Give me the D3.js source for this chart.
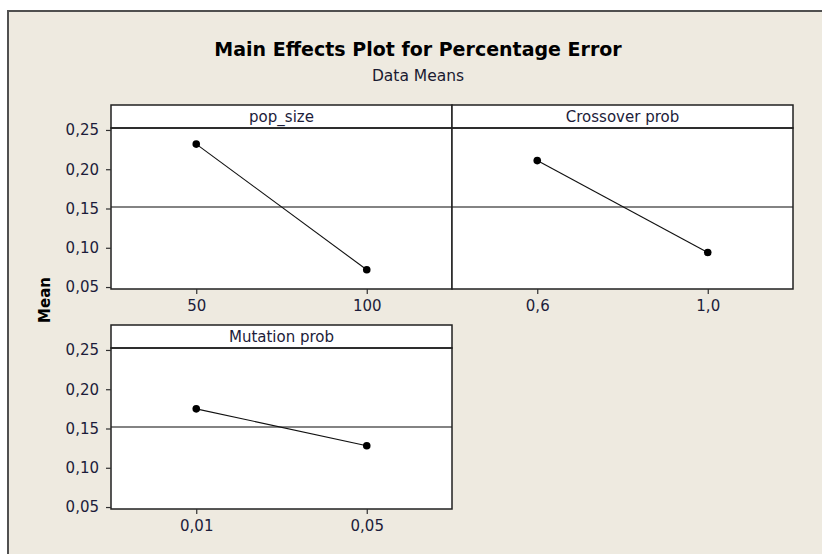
<!DOCTYPE html>
<html>
<head>
<meta charset="utf-8">
<script src="https://cdn.jsdelivr.net/npm/d3@7"></script>
<style>
  html, body { margin: 0; padding: 0; background: #ffffff; }
  svg { display: block; }
  text { font-family: "DejaVu Sans", Verdana, sans-serif; }
</style>
</head>
<body>
<svg id="chart" width="822" height="554"></svg>
<script>
// Factors and their level labels
const factors = ["pop_size", "Crossover prob", "Mutation prob"];
const popSizeLevels = ["50", "100"];
const crossoverLevels = ["0,6", "1,0"];
const mutationLevels = ["0,01", "0,05"];

// Mean percentage error at each level
const popSizeMeans = [0.232, 0.072];
const crossoverMeans = [0.211, 0.094];
const mutationMeans = [0.175, 0.128];

// Grand mean (reference line)
const grandMean = 0.152;

// Y axis ticks
const yTicks = [0.05, 0.10, 0.15, 0.20, 0.25];

const panels = [
  { name: factors[0], levels: popSizeLevels, means: popSizeMeans, col: 0, row: 0 },
  { name: factors[1], levels: crossoverLevels, means: crossoverMeans, col: 1, row: 0 },
  { name: factors[2], levels: mutationLevels, means: mutationMeans, col: 0, row: 1 }
];

const svg = d3.select("#chart");

// Outer frame
svg.append("rect")
  .attr("x", 8).attr("y", 11)
  .attr("width", 830).attr("height", 560)
  .attr("fill", "#eeeae0")
  .attr("stroke", "#505050")
  .attr("stroke-width", 2);

// Titles
svg.append("text")
  .attr("x", 418).attr("y", 56)
  .attr("text-anchor", "middle")
  .attr("font-weight", "bold")
  .attr("font-size", 19)
  .attr("fill", "#000")
  .text("Main Effects Plot for Percentage Error");

svg.append("text")
  .attr("x", 418).attr("y", 81)
  .attr("text-anchor", "middle")
  .attr("font-size", 15.5)
  .attr("fill", "#1a1a30")
  .text("Data Means");

// Shared y axis title
svg.append("text")
  .attr("transform", "translate(50,300) rotate(-90)")
  .attr("text-anchor", "middle")
  .attr("font-weight", "bold")
  .attr("font-size", 15)
  .attr("fill", "#000")
  .text("Mean");

// Panel geometry
const colX = [111, 452];
const panelW = 341;
const rowTop = [105, 325];
const stripH = 23;
const plotH = 161;

const fmt = v => d3.format(".2f")(v).replace(".", ",");
const textColor = "#1c1c3a";

panels.forEach(p => {
  const x0 = colX[p.col];
  const top = rowTop[p.row];
  const plotTop = top + stripH;
  const plotBottom = plotTop + plotH;

  const x = d3.scalePoint()
    .domain(p.levels)
    .range([x0, x0 + panelW])
    .padding(0.5);

  const y = d3.scaleLinear()
    .domain([0.0475, 0.2525])
    .range([plotBottom, plotTop]);

  const g = svg.append("g");

  // Plot area
  g.append("rect")
    .attr("x", x0).attr("y", plotTop)
    .attr("width", panelW).attr("height", plotH)
    .attr("fill", "#ffffff");

  // Grand mean reference line
  g.append("line")
    .attr("x1", x0).attr("x2", x0 + panelW)
    .attr("y1", y(grandMean)).attr("y2", y(grandMean))
    .attr("stroke", "#5a5a5a")
    .attr("stroke-width", 1.5);

  // Strip with factor name
  g.append("rect")
    .attr("x", x0).attr("y", top)
    .attr("width", panelW).attr("height", stripH)
    .attr("fill", "#ffffff")
    .attr("stroke", "#202020")
    .attr("stroke-width", 1.5);

  g.append("text")
    .attr("x", x0 + panelW / 2).attr("y", top + 17)
    .attr("text-anchor", "middle")
    .attr("font-size", 15)
    .attr("fill", textColor)
    .text(p.name);

  // Panel border
  g.append("rect")
    .attr("x", x0).attr("y", plotTop)
    .attr("width", panelW).attr("height", plotH)
    .attr("fill", "none")
    .attr("stroke", "#202020")
    .attr("stroke-width", 1.5);

  // Axes
  const xAxis = g.append("g")
    .attr("transform", `translate(0,${plotBottom})`)
    .call(d3.axisBottom(x).tickSize(5).tickPadding(6));
  xAxis.select(".domain").remove();
  xAxis.selectAll("line").attr("stroke", "#303030").attr("stroke-width", 1.2);
  xAxis.selectAll("text")
    .attr("font-size", 15)
    .attr("font-family", "DejaVu Sans, sans-serif")
    .attr("fill", textColor);

  if (p.col === 0) {
    const yAxis = g.append("g")
      .attr("transform", `translate(${x0},0)`)
      .call(d3.axisLeft(y).tickValues(yTicks).tickFormat(fmt).tickSize(5).tickPadding(7));
    yAxis.select(".domain").remove();
    yAxis.selectAll("line").attr("stroke", "#303030").attr("stroke-width", 1.2);
    yAxis.selectAll("text")
      .attr("font-size", 15)
      .attr("font-family", "DejaVu Sans, sans-serif")
      .attr("fill", textColor);
  }

  // Means line and points
  const pts = p.levels.map((l, i) => [x(l), y(p.means[i])]);
  g.append("path")
    .attr("d", d3.line()(pts))
    .attr("fill", "none")
    .attr("stroke", "#101010")
    .attr("stroke-width", 1.1);

  g.selectAll("circle.pt")
    .data(p.levels)
    .join("circle")
    .attr("class", "pt")
    .attr("cx", d => x(d))
    .attr("cy", (d, i) => y(p.means[i]))
    .attr("r", 3.8)
    .attr("fill", "#000");
});
</script>
</body>
</html>
